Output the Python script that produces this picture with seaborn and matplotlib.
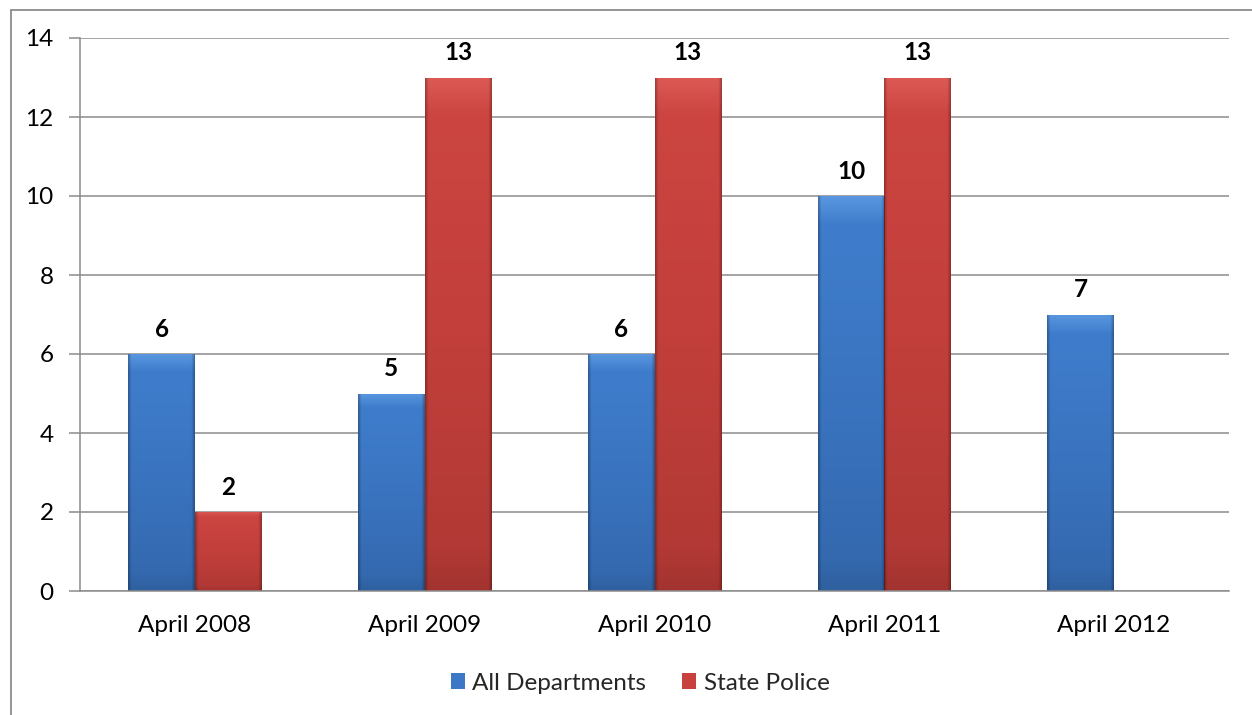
import numpy as np
import pandas as pd
import matplotlib
matplotlib.use("Agg")
import matplotlib.pyplot as plt
import seaborn as sns
from matplotlib.colors import LinearSegmentedColormap
from matplotlib.patches import Patch
from matplotlib.lines import Line2D

categories = ["April 2008", "April 2009", "April 2010", "April 2011", "April 2012"]
all_departments = [6, 5, 6, 10, 7]
state_police = [2, 13, 13, 13, np.nan]
series_names = ["All Departments", "State Police"]
yticks = [0, 2, 4, 6, 8, 10, 12, 14]

df = pd.DataFrame({
    "category": categories * 2,
    "series": [series_names[0]] * len(categories) + [series_names[1]] * len(categories),
    "value": all_departments + state_police,
})

sns.set_theme(style="white")
plt.rcParams["font.family"] = ["Lato", "DejaVu Sans"]
FS = 17.5

fig = plt.figure(figsize=(12.52, 7.15), dpi=100)
ax = fig.add_axes([80 / 1252, 1 - 591 / 715, (1229 - 80) / 1252, (591 - 38) / 715])

base_colors = {"All Departments": "#3C78C6", "State Police": "#C8413D"}
sns.barplot(data=df, x="category", y="value", hue="series", order=categories,
            hue_order=series_names, palette=base_colors, width=0.58, ax=ax,
            legend=False, saturation=1, edgecolor="none", linewidth=0)

grads = {
    "All Departments": LinearSegmentedColormap.from_list(
        "b", [(0, "#2F609F"), (0.08, "#3469AF"), (0.5, "#3A74C0"), (0.93, "#3F7DCC"), (1, "#5A97E0")]),
    "State Police": LinearSegmentedColormap.from_list(
        "r", [(0, "#A2332F"), (0.08, "#B23935"), (0.5, "#C23F3B"), (0.93, "#CC4541"), (1, "#DC5A55")]),
}

ax.set_ylim(0, 14)
ax.set_xlim(-0.5, len(categories) - 0.5)

for container, name in zip(ax.containers, series_names):
    cmap = grads[name]
    for bar in container:
        h = bar.get_height()
        if not np.isfinite(h) or h <= 0:
            continue
        x0 = bar.get_x()
        w = bar.get_width()
        grad = np.linspace(0, 1, 256).reshape(-1, 1)
        im = ax.imshow(grad, cmap=cmap, origin="lower", aspect="auto",
                       extent=[x0, x0 + w, 0, h], zorder=bar.get_zorder() + 0.1,
                       interpolation="bicubic")
        im.set_clip_path(bar)
        side = np.concatenate([np.linspace(0.3, 0, 14), np.zeros(228), np.linspace(0, 0.3, 14)]).reshape(1, -1)
        rgba = np.zeros((1, 256, 4))
        rgba[..., 3] = side
        im2 = ax.imshow(rgba, aspect="auto", extent=[x0, x0 + w, 0, h],
                        zorder=bar.get_zorder() + 0.2, interpolation="bilinear")
        im2.set_clip_path(bar)
        ax.text(x0 + w / 2, h + 0.34, f"{int(h)}", ha="center", va="bottom",
                fontsize=FS, fontweight="bold", color="black")

ax.set_ylim(0, 14)
ax.set_xlim(-0.5, len(categories) - 0.5)
ax.set_aspect("auto")

grid_color = "#8C8C8C"
ax.set_yticks(yticks)
ax.yaxis.grid(True, color=grid_color, linewidth=1.1)
ax.set_axisbelow(True)
ax.set_xlabel("")
ax.set_ylabel("")
for s in ["top", "right"]:
    ax.spines[s].set_visible(False)
for s in ["left", "bottom"]:
    ax.spines[s].set_color(grid_color)
    ax.spines[s].set_linewidth(1.1)

ax.set_xticks(range(len(categories)))
ax.set_xticklabels(categories, fontsize=FS)
ax.set_xticks(np.arange(-0.5, len(categories)), minor=True)
ax.tick_params(axis="both", colors=grid_color, labelcolor="black")
ax.tick_params(axis="x", which="major", length=0, pad=17.5)
ax.tick_params(axis="x", which="minor", length=8, color=grid_color, width=1.1, direction="out")
ax.tick_params(axis="y", length=8, color=grid_color, width=1.1, direction="out",
               labelsize=FS, pad=11, left=True)

handles = [Patch(facecolor=base_colors[n], edgecolor="none", label=n) for n in series_names]
fig.legend(handles=handles, loc="center", bbox_to_anchor=(640 / 1252, 1 - 683 / 715),
           ncol=2, frameon=False, fontsize=FS, handlelength=0.6, handleheight=0.6,
           handletextpad=0.3, columnspacing=1.45)

fig.add_artist(Line2D([11 / 1252, 11 / 1252], [0, 1 - 10 / 715], transform=fig.transFigure,
                      color=grid_color, linewidth=1.3))
fig.add_artist(Line2D([11 / 1252, 1], [1 - 10 / 715, 1 - 10 / 715], transform=fig.transFigure,
                      color=grid_color, linewidth=1.3))

fig.savefig("out.png", dpi=100)
